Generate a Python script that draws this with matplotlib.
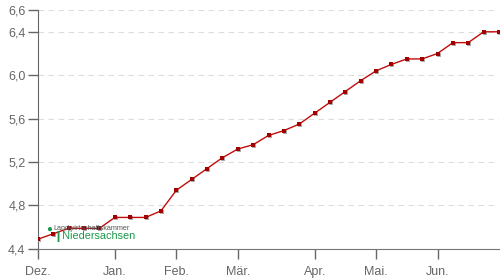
import numpy as np
import matplotlib
matplotlib.use('Agg')
import matplotlib.pyplot as plt
import matplotlib.transforms as mtransforms
from matplotlib.ticker import FuncFormatter

# wöchentliche Werte, Dez. bis Jun.
weeks = list(range(31))
values = [4.49, 4.54, 4.59, 4.59, 4.59, 4.69, 4.69, 4.69, 4.75, 4.94,
          5.04, 5.14, 5.24, 5.32, 5.36, 5.445, 5.49, 5.55, 5.65, 5.75,
          5.85, 5.95, 6.04, 6.10, 6.15, 6.15, 6.20, 6.30, 6.30, 6.40, 6.40]

month_pos = [0, 5, 9, 13, 18, 22, 26]
month_labels = ['Dez.', 'Jan.', 'Feb.', 'Mär.', 'Apr.', 'Mai.', 'Jun.']
y_ticks = [4.4, 4.8, 5.2, 5.6, 6.0, 6.4, 6.6]

plt.rcParams['font.family'] = ['Liberation Sans', 'DejaVu Sans']

fig = plt.figure(figsize=(5, 2.8), dpi=100)
ax = fig.add_axes([0.076, 0.111, 0.922, 0.853])

line_col = '#c00d0d'
# Schatten der Punkte
shadow = ax.transData + mtransforms.ScaledTranslation(1/100, -1/100, fig.dpi_scale_trans)
ax.plot(weeks, values, linestyle='none', marker='s', markersize=2.4,
        color='#aaaaaa', markeredgewidth=0, transform=shadow, zorder=3)
ax.plot(weeks, values, color=line_col, linewidth=1, marker='s',
        markersize=2.2, markeredgewidth=0, markerfacecolor='#a00000', zorder=4)

ax.set_xlim(0, 30)
ax.set_ylim(4.4, 6.6)
ax.set_xticks(month_pos)
ax.set_xticklabels(month_labels)
ax.set_yticks(y_ticks)
ax.yaxis.set_major_formatter(FuncFormatter(lambda v, p: f'{v:.1f}'.replace('.', ',')))

ax.grid(axis='y', color='#dddddd', linestyle=(0, (5, 4)), linewidth=0.8)
ax.set_axisbelow(True)
for s in ['top', 'right']:
    ax.spines[s].set_visible(False)
ax.spines['left'].set_color('#666666')
ax.spines['bottom'].set_color('#777777')
ax.tick_params(axis='both', colors='#666666', labelcolor='#666666',
               length=7, width=1, labelsize=9)
ax.tick_params(axis='x', pad=5)
ax.tick_params(axis='y', pad=2)

# Logo
fig.text(49/500, 1 - 229/280, '\u25cf', color='#1a9a4a', fontsize=7,
         ha='center', va='center')
fig.text(53.5/500, 1 - 228/280, 'Landwirtschaftskammer', color='#555555',
         fontsize=5.2, ha='left', va='center')
fig.text(53/500, 1 - 236.5/280, '\u2759Niedersachsen', color='#1a9a4a',
         fontsize=7.8, ha='left', va='center',
         family=['Liberation Sans', 'DejaVu Sans'])

fig.savefig('out.png', dpi=100)
